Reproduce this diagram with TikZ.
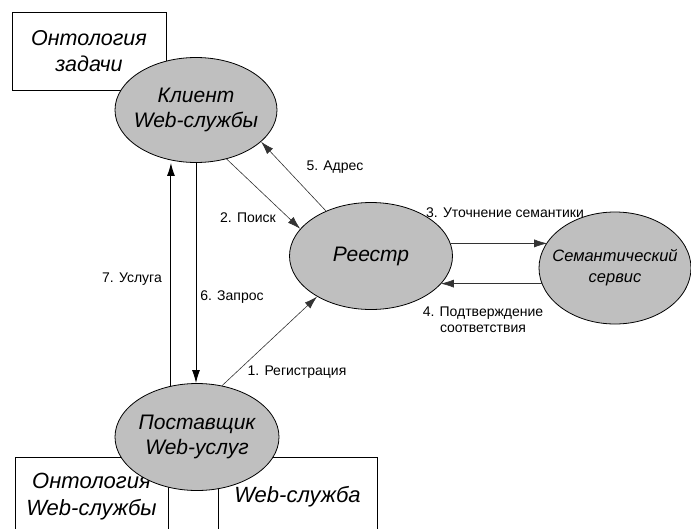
\documentclass[tikz,border=0pt]{standalone}
\usepackage{fontspec}
\setmainfont{Liberation Sans}
\usepackage{xcolor}
\usepackage{tikz}
\usetikzlibrary{calc}
\usetikzlibrary{shapes,arrows,arrows.meta,positioning}
\usetikzlibrary{shapes.geometric}

\tikzset{
	actor/.style={ellipse,draw=black,line width=0.8pt,fill=gray!50,minimum width=162pt,minimum height=105pt,inner xsep=-20pt,inner ysep=0pt,align=center,font=\fontsize{21}{25}\selectfont\itshape},
	store/.style={rectangle,draw=black,line width=0.6pt,fill=white,inner sep=0pt,align=center,font=\fontsize{21.5}{26}\selectfont\itshape},
	flow/.style={draw=black!80,line width=0.6pt,-{Latex[length=13pt,width=8pt]}},
	bigflow/.style={draw=black,line width=1pt,-{Latex[length=13pt,width=8pt]}},
	lbl/.style={font=\fontsize{14}{16}\selectfont,align=center,inner sep=0pt}
}

\begin{document}
\begin{tikzpicture}[x=1pt,y=-1pt]
	\useasboundingbox (0,0) rectangle (691,528);
	% boxes behind the ellipses
	\node[store,minimum width=154pt,minimum height=78pt] (ontask) at (89,51) {Онтология\\задачи};
	\node[store,minimum width=153pt,minimum height=80pt,font=\fontsize{22}{27}\selectfont\itshape] (ontserv) at (91.5,497) {Онтология\\Web-службы};
	\node[store,minimum width=159pt,minimum height=80pt,font=\fontsize{22}{27}\selectfont\itshape] (wserv) at (297.5,497) {Web-служба};
	% ellipses
	\node[actor] (client) at (196,110) {Клиент\\Web-службы};
	\node[actor,minimum width=163pt,minimum height=107pt] (reg) at (371,256) {Реестр};
	\node[actor,minimum width=152pt,minimum height=112pt,font=\fontsize{16.5}{21}\selectfont\itshape] (sem) at (615,268) {Семантический\\сервис};
	\node[actor,minimum width=164pt,minimum height=107pt] (prov) at (197,437) {Поставщик\\Web-услуг};
	% connectors
	\draw[flow] (prov.64) -- (reg.217);
	\draw[flow] (client.-58) -- (reg.159);
	\draw[flow] (reg.9.3) -- (reg.9.3 -| sem.159.8);
	\draw[flow] (sem.192.9) -- (sem.192.9 -| reg.-22.2);
	\draw[flow] (reg.135) -- (client.-26.6);
	\draw[bigflow] (client.south) -- (client.south |- prov.north);
	\draw[bigflow] (prov.117) -- (prov.117 |- client.south);
	% labels
	\node[lbl] (l1) at (297,372) {1. Регистрация};
	\node[lbl] (l2) at (248,218) {2. Поиск};
	\node[lbl] (l3) at (505,213) {3. Уточнение семантики};
	\node[lbl] (l4) at (483,320) {4. Подтверждение\\соответствия};
	\node[lbl] (l5) at (335,167) {5. Адрес};
	\node[lbl] (l6) at (232,297) {6. Запрос};
	\node[lbl] (l7) at (132,279) {7. Услуга};
\end{tikzpicture}
\end{document}
